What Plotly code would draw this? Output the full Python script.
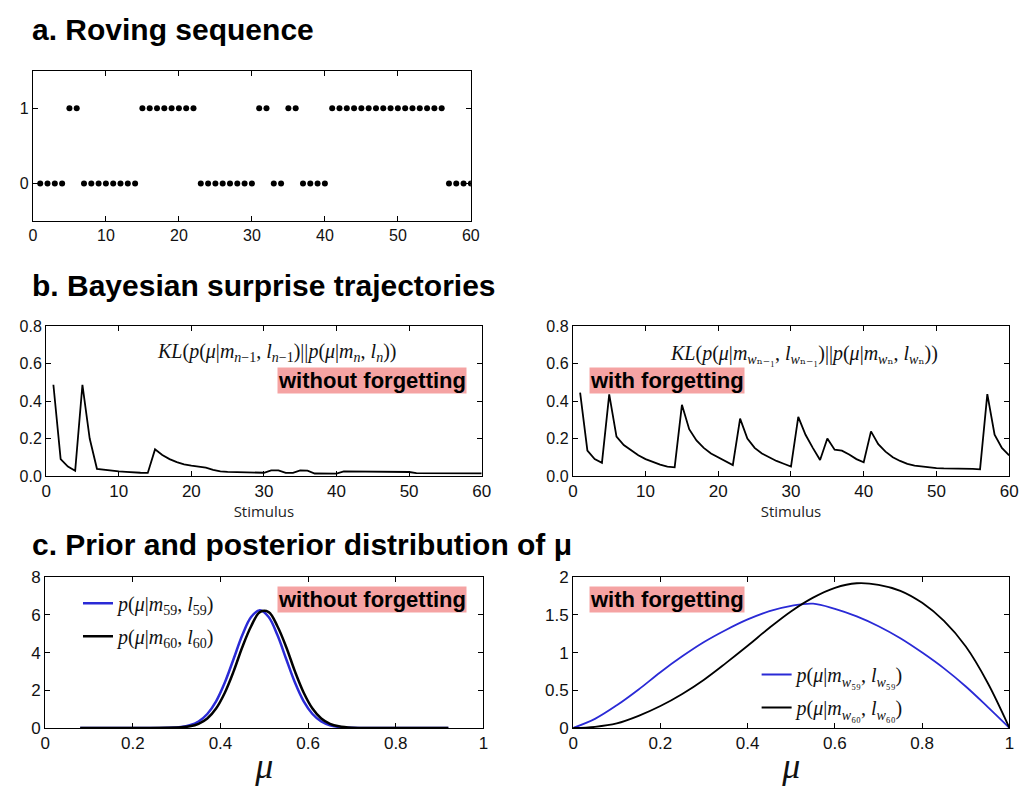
import plotly.graph_objects as go

W, H = 1028, 787

# ---------------- data ----------------
stim = list(range(1, 61))
roving = [0, 0, 0, 0, 1, 1, 0, 0, 0, 0, 0, 0, 0, 0,
          1, 1, 1, 1, 1, 1, 1, 1, 0, 0, 0, 0, 0, 0, 0, 0,
          1, 1, 0, 0, 1, 1, 0, 0, 0, 0,
          1, 1, 1, 1, 1, 1, 1, 1, 1, 1, 1, 1, 1, 1, 1, 1,
          0, 0, 0, 0]

kl_without = [0.487, 0.09, 0.05, 0.028, 0.487, 0.20, 0.038, 0.032, 0.028, 0.024,
              0.022, 0.018, 0.017, 0.016, 0.142, 0.112, 0.09, 0.074, 0.062, 0.055,
              0.05, 0.044, 0.032, 0.024, 0.022, 0.021, 0.02, 0.019, 0.018, 0.017,
              0.03, 0.03, 0.016, 0.016, 0.03, 0.028, 0.013, 0.012, 0.012, 0.012,
              0.024, 0.024, 0.023, 0.023, 0.022, 0.022, 0.022, 0.021, 0.021, 0.021,
              0.015, 0.015, 0.015, 0.015, 0.014, 0.014, 0.014, 0.014, 0.014, 0.014]

kl_with = [0.445, 0.135, 0.09, 0.07, 0.436, 0.21, 0.165, 0.135, 0.11, 0.09,
           0.075, 0.06, 0.05, 0.046, 0.38, 0.25, 0.19, 0.15, 0.12, 0.10,
           0.08, 0.058, 0.306, 0.20, 0.15, 0.12, 0.10, 0.08, 0.065, 0.05,
           0.315, 0.22, 0.15, 0.085, 0.20, 0.14, 0.135, 0.115, 0.09, 0.073,
           0.238, 0.17, 0.13, 0.10, 0.08, 0.065, 0.055, 0.05, 0.045, 0.042,
           0.04, 0.04, 0.04, 0.039, 0.038, 0.035, 0.437, 0.22, 0.15, 0.11]

mu_c1 = [0.08, 0.20, 0.28, 0.31, 0.33, 0.35, 0.37, 0.39, 0.41, 0.43, 0.45, 0.47, 0.49,
         0.51, 0.53, 0.55, 0.57, 0.59, 0.61, 0.63, 0.65, 0.67, 0.70, 0.78, 0.92]
post59 = [0, 0, 0.01, 0.05, 0.14, 0.34, 0.74, 1.41, 2.41, 3.66, 4.93, 5.89, 6.25,
          5.89, 4.93, 3.66, 2.41, 1.41, 0.74, 0.34, 0.14, 0.05, 0.01, 0, 0]
post60 = [0, 0, 0.005, 0.03, 0.085, 0.22, 0.5, 1.03, 1.87, 3.0, 4.3, 5.4, 6.15,
          6.15, 5.4, 4.3, 3.0, 1.87, 1.03, 0.5, 0.22, 0.085, 0.01, 0, 0]

mu_c2 = [0, 0.05, 0.1, 0.15, 0.2, 0.25, 0.3, 0.35, 0.4, 0.45, 0.5,
         0.55, 0.6, 0.65, 0.7, 0.75, 0.8, 0.85, 0.9, 0.95, 1.0]
postw59 = [0, 0.12, 0.30, 0.51, 0.74, 0.95, 1.14, 1.30, 1.44, 1.55, 1.62,
           1.65, 1.58, 1.48, 1.35, 1.19, 1.00, 0.79, 0.55, 0.28, 0]
postw60 = [0, 0.015, 0.06, 0.16, 0.29, 0.45, 0.64, 0.86, 1.09, 1.33, 1.55,
           1.73, 1.86, 1.92, 1.90, 1.82, 1.66, 1.42, 1.08, 0.60, 0]

# ---------------- helpers ----------------
def px_x(p):
    return p / W

def px_y(p):
    return 1 - p / H

BLUE = "#2a2ad6"
PINK = "#f5a3a3"
SANS = "Liberation Sans, Arial, sans-serif"
SERIF = "Liberation Serif, DejaVu Serif, serif"

fig = go.Figure()

fig.add_trace(go.Scatter(x=stim, y=roving, mode="markers",
                         marker=dict(color="black", size=6),
                         xaxis="x", yaxis="y", showlegend=False))
fig.add_trace(go.Scatter(x=stim, y=kl_without, mode="lines",
                         line=dict(color="black", width=1.8),
                         xaxis="x2", yaxis="y2", showlegend=False))
fig.add_trace(go.Scatter(x=stim, y=kl_with, mode="lines",
                         line=dict(color="black", width=1.8),
                         xaxis="x3", yaxis="y3", showlegend=False))

fig.add_trace(go.Scatter(x=mu_c1, y=post59, mode="lines", line_shape="spline",
                         line=dict(color=BLUE, width=2.5), legendgroup="a",
                         name="<i>p</i>(<i>μ</i>|<i>m</i><sub>59</sub>, <i>l</i><sub>59</sub>)",
                         xaxis="x4", yaxis="y4", legend="legend"))
fig.add_trace(go.Scatter(x=mu_c1, y=post60, mode="lines", line_shape="spline",
                         line=dict(color="black", width=2.5), legendgroup="b",
                         name="<i>p</i>(<i>μ</i>|<i>m</i><sub>60</sub>, <i>l</i><sub>60</sub>)",
                         xaxis="x4", yaxis="y4", legend="legend"))

fig.add_trace(go.Scatter(x=mu_c2, y=postw59, mode="lines", line_shape="spline",
                         line=dict(color=BLUE, width=1.8), legendgroup="c",
                         name="<i>p</i>(<i>μ</i>|<i>m</i><sub><i>w</i>₅₉</sub>, <i>l</i><sub><i>w</i>₅₉</sub>)",
                         xaxis="x5", yaxis="y5", legend="legend2"))
fig.add_trace(go.Scatter(x=mu_c2, y=postw60, mode="lines", line_shape="spline",
                         line=dict(color="black", width=1.8), legendgroup="d",
                         name="<i>p</i>(<i>μ</i>|<i>m</i><sub><i>w</i>₆₀</sub>, <i>l</i><sub><i>w</i>₆₀</sub>)",
                         xaxis="x5", yaxis="y5", legend="legend2"))

axis_common = dict(showline=True, linecolor="black", linewidth=1.2, mirror="ticks",
                   ticks="inside", ticklen=5, tickcolor="black", showgrid=False,
                   zeroline=False, fixedrange=True)

def xa(dom, anchor, rng, dtick, size=17, **kw):
    d = dict(axis_common)
    d.update(domain=dom, anchor=anchor, range=rng, dtick=dtick,
             tickfont=dict(family=SANS, size=size, color="#111"))
    d.update(kw)
    return d

def ya(dom, anchor, rng, dtick, size=16, **kw):
    d = dict(axis_common)
    d.update(domain=dom, anchor=anchor, range=rng, dtick=dtick,
             tickfont=dict(family=SANS, size=size, color="#111"))
    d.update(kw)
    return d

# domains from pixel positions
dA_x = [px_x(28.3), px_x(472.3)]; dA_y = [px_y(217.3), px_y(63.3)]
dBL_x = [px_x(41.7), px_x(483.3)]; dB_y = [px_y(478.5), px_y(325)]
dBR_x = [px_x(575.7), px_x(1018)]
dCL_x = [px_x(40.7), px_x(485)]; dC_y = [px_y(736.7), px_y(582.3)]
dCR_x = [px_x(576), px_x(1018.3)]

stim_title = dict(text="Stimulus", font=dict(family="Open Sans, sans-serif", size=15, color="#222"),
                  standoff=2)
mu_title = dict(text="<i>μ</i>", font=dict(family=SERIF, size=36, color="#111"), standoff=0)

fig.update_layout(
    width=W, height=H,
    margin=dict(l=0, r=0, t=0, b=0),
    paper_bgcolor="white", plot_bgcolor="white",
    xaxis=xa(dA_x, "y", [0, 60], 10, size=16),
    yaxis=ya(dA_y, "x", [-0.5, 1.5], None, size=16, tickvals=[0, 1]),
    xaxis2=xa(dBL_x, "y2", [0, 60], 10, title=stim_title),
    yaxis2=ya(dB_y, "x2", [0, 0.8], 0.2, tickformat=".1f"),
    xaxis3=xa(dBR_x, "y3", [0, 60], 10, title=stim_title),
    yaxis3=ya(dB_y, "x3", [0, 0.8], 0.2, tickformat=".1f"),
    xaxis4=xa(dCL_x, "y4", [0, 1], 0.2, title=mu_title),
    yaxis4=ya(dC_y, "x4", [0, 8], 2, size=17),
    xaxis5=xa(dCR_x, "y5", [0, 1], 0.2, title=mu_title),
    yaxis5=ya(dC_y, "x5", [0, 2], 0.5, size=17),
    legend=dict(x=px_x(74), y=px_y(589), xanchor="left", yanchor="top",
                bgcolor="rgba(0,0,0,0)", font=dict(family=SERIF, size=20, color="#111"),
                tracegroupgap=4),
    legend2=dict(x=px_x(762), y=px_y(662), xanchor="left", yanchor="top",
                 bgcolor="rgba(0,0,0,0)", font=dict(family=SERIF, size=20, color="#111"),
                 tracegroupgap=4),
)

annots = []
def heading(text, xpx, ypx):
    annots.append(dict(text=text, x=px_x(xpx), y=px_y(ypx), xref="paper", yref="paper",
                       xanchor="left", yanchor="middle", showarrow=False,
                       font=dict(family=SANS, size=30, color="black")))

heading("<b>a. Roving sequence</b>", 25, 21)
heading("<b>b. Bayesian surprise trajectories</b>", 25, 283)
heading("<b>c. Prior and posterior distribution of μ</b>", 25, 549)

def tag(text, xc, yc):
    annots.append(dict(text="<b>" + text + "</b>", x=px_x(xc), y=px_y(yc), xref="paper", yref="paper",
                       xanchor="center", yanchor="middle", showarrow=False,
                       bgcolor=PINK, borderpad=0,
                       font=dict(family=SANS, size=22, color="black")))

tag("without forgetting", 372.5, 381)
tag("with forgetting", 671, 381)
tag("without forgetting", 372.5, 605)
tag("with forgetting", 671, 605)

def formula(text, xc, yc):
    annots.append(dict(text=text, x=px_x(xc), y=px_y(yc), xref="paper", yref="paper",
                       xanchor="center", yanchor="middle", showarrow=False,
                       font=dict(family=SERIF, size=20, color="#111")))

formula("<i>KL</i>(<i>p</i>(<i>μ</i>|<i>m</i><sub><i>n</i>−1</sub>, <i>l</i><sub><i>n</i>−1</sub>)||<i>p</i>(<i>μ</i>|<i>m</i><sub><i>n</i></sub>, <i>l</i><sub><i>n</i></sub>))",
        275, 352)
formula("<i>KL</i>(<i>p</i>(<i>μ</i>|<i>m</i><sub><i>w</i>ₙ₋₁</sub>, <i>l</i><sub><i>w</i>ₙ₋₁</sub>)||<i>p</i>(<i>μ</i>|<i>m</i><sub><i>w</i>ₙ</sub>, <i>l</i><sub><i>w</i>ₙ</sub>))",
        810, 354)

fig.update_layout(annotations=annots)

fig.write_html("out.html")
